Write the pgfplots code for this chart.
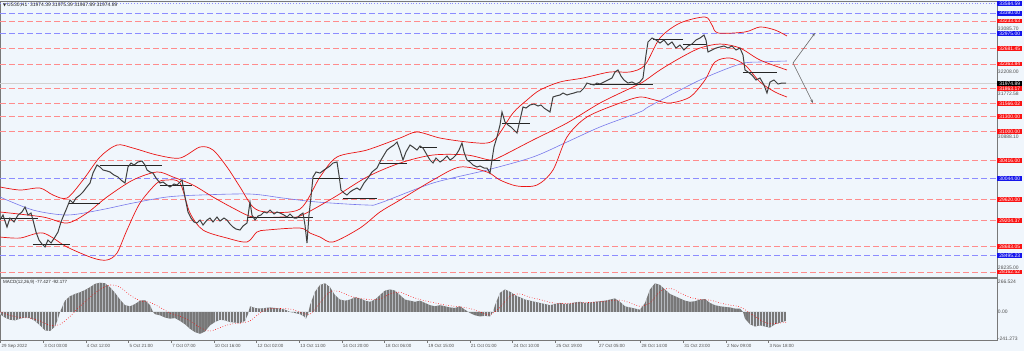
\documentclass[border=0pt]{standalone}
\usepackage{pgfplots}
\pgfplotsset{compat=1.18}
\usepackage{fontspec}
\setmainfont{Liberation Sans}
\newfontfamily\dejavu{DejaVu Sans}
\usetikzlibrary{arrows.meta,patterns}
\definecolor{bg}{RGB}{240,246,252}
\definecolor{lvred}{RGB}{255,140,140}
\definecolor{lvblue}{RGB}{140,140,255}
\definecolor{bandred}{RGB}{235,20,20}
\definecolor{mablue}{RGB}{120,120,235}
\definecolor{lblred}{RGB}{250,20,20}
\definecolor{lblblue}{RGB}{20,20,235}
\definecolor{axgray}{RGB}{120,120,120}
\definecolor{txtgray}{RGB}{80,80,80}
\definecolor{histgray}{RGB}{120,120,120}
\definecolor{stripe}{RGB}{215,220,228}
\tikzset{
  plab/.style={anchor=west, inner xsep=0.8bp, inner ysep=0.6bp, font=\fontsize{5}{5}\selectfont, text=white, text height=3.6bp, text depth=0bp, minimum width=25bp},
  glab/.style={anchor=west, inner xsep=0.8bp, inner ysep=0.6bp, font=\fontsize{5}{5}\selectfont, text=txtgray, text height=3.6bp, text depth=0bp},
}
\pgfplotstableread{
x y
0 0
0 -20
5 -50
10 -70
15 -75
20 -60
25 -50
30 -55
35 -80
40 -120
45 -165
50 -170
55 -130
58 -60
60 0
62 40
65 100
70 140
75 160
80 175
85 195
90 220
95 250
100 260
105 255
110 220
115 170
120 110
125 60
130 50
135 70
140 100
145 105
150 60
153 0
155 -20
160 -30
165 -50
170 -60
175 -55
180 -80
185 -110
190 -150
195 -180
200 -195
205 -175
210 -120
215 -90
220 -70
225 -75
230 -90
235 -95
240 -100
245 -80
248 -20
250 50
255 35
260 30
265 35
270 40
275 35
280 30
285 20
290 0
295 -10
300 -20
304 -40
306 -60
308 -20
310 60
315 180
320 240
325 255
330 220
335 150
340 110
345 100
350 110
355 130
360 120
365 100
370 90
375 110
380 150
385 190
390 200
395 190
400 150
405 110
410 100
415 90
420 100
425 80
430 60
435 50
440 60
445 50
450 40
455 35
460 50
465 20
470 -10
475 -30
480 -40
485 -35
490 -40
493 0
495 60
500 170
505 200
510 180
515 150
520 130
525 110
530 100
535 90
540 80
545 70
550 60
555 70
560 80
565 70
570 75
575 85
580 90
585 80
590 85
595 90
600 95
605 100
610 110
615 120
620 90
625 50
630 40
635 30
640 20
645 80
650 200
655 255
660 240
665 200
670 160
675 140
680 120
685 100
690 90
695 95
700 110
705 115
710 80
715 60
720 50
725 45
730 40
735 30
740 30
743 0
745 -60
750 -110
755 -130
760 -120
765 -130
770 -140
775 -110
780 -95
786 -80
786 0
}\macdhist
\begin{document}
\begin{tikzpicture}[x=1bp,y=1bp]
\fill[bg] (0,0) rectangle (1024,351);
% ---------------- main price panel ----------------
\begin{axis}[at={(0bp,74bp)}, anchor=south west, scale only axis,
  width=997bp, height=276bp, xmin=0, xmax=997, ymin=28061, ymax=33636,
  xtick=\empty, ytick=\empty, clip=false,
  axis line style={draw=axgray, line width=0.6bp}]
% horizontal levels
\addplot[lvblue, dotted, line width=0.8bp] coordinates {(0,33584.59) (997,33584.59)};
\pgfplotsinvokeforeach{33390.00,32975.00,30044.00,28495.23}{
  \addplot[lvblue, dash pattern=on 6bp off 3bp, line width=0.8bp] coordinates {(0,#1) (997,#1)};
}
\pgfplotsinvokeforeach{33233.63,32681.45,32363.84,31863.17,31566.02,31300.00,31000.00,30416.00,29620.00,29204.37,28683.05,28162.52}{
  \addplot[lvred, dash pattern=on 6bp off 3bp, line width=0.8bp] coordinates {(0,#1) (997,#1)};
}
\addplot[gray!35, line width=0.6bp] coordinates {(0,31974.89) (997,31974.89)};
% moving average (blue)
\addplot[mablue, line width=0.6bp, smooth] coordinates {
(0,29677) (33,29414) (67,29313) (100,29414) (133,29555) (167,29677) (200,29717) (250,29737)
(283,29656) (317,29576) (367,29515) (380,29555) (433,29959) (487,30222) (533,30485)
(567,30788) (600,31091) (640,31394) (650,31515) (700,32040) (740,32363) (760,32404) (787,32424)};
% Bollinger upper
\addplot[bandred, line width=0.7bp, smooth] coordinates {
(0,29879) (20,29818) (40,29858) (53,29717) (67,29656) (83,30020) (100,30485) (117,30727)
(133,30666) (157,30525) (180,30464) (200,30687) (213,30626) (227,30283) (240,29879)
(253,29475) (267,29374) (300,29434) (320,30081) (337,30485) (367,30626) (400,30868)
(417,30990) (440,30868) (467,30788) (487,30767) (497,30889) (513,31373) (527,31636)
(540,31838) (560,32000) (583,32080) (610,32202) (630,32202) (645,32343) (660,32888)
(680,33191) (705,33313) (712,33151) (718,32990) (745,33010) (760,33111) (775,33050) (787,32929)};
% Bollinger middle
\addplot[bandred, line width=0.7bp, smooth] coordinates {
(0,29374) (43,29273) (67,29151) (87,29353) (107,29677) (133,30020) (157,30182) (173,30081)
(193,29919) (213,29677) (233,29454) (253,29273) (283,29273) (300,29293) (333,29656)
(367,30081) (400,30363) (433,30525) (467,30525) (490,30424) (500,30485) (533,30828)
(567,31171) (600,31575) (633,31899) (643,32000) (660,32242) (680,32484) (700,32686)
(720,32767) (740,32686) (760,32444) (787,32242)};
% Bollinger lower
\addplot[bandred, line width=0.7bp, smooth] coordinates {
(0,28869) (20,28848) (43,28949) (67,28667) (93,28444) (107,28404) (117,28545) (127,29010)
(140,29555) (157,29959) (167,30020) (180,29959) (190,29353) (203,29010) (227,28848)
(247,28768) (257,28970) (267,29010) (300,29050) (310,28949) (320,28869) (333,28768)
(360,29050) (380,29374) (400,29616) (433,30020) (460,30283) (487,30182) (500,30020)
(517,29899) (537,29919) (553,30222) (567,30889) (587,31293) (620,31575) (640,31697)
(655,31636) (670,31575) (690,31697) (705,32040) (715,32404) (730,32484) (745,32343)
(760,32000) (775,31798) (787,31697)};
% support / resistance segments
\addplot[black!85, line width=0.7bp] coordinates {(0,29252) (38,29252)};
\addplot[black!85, line width=0.7bp] coordinates {(33,28727) (70,28727)};
\addplot[black!85, line width=0.7bp] coordinates {(68,29555) (100,29555)};
\addplot[black!85, line width=0.7bp] coordinates {(100,30323) (162,30323)};
\addplot[black!85, line width=0.7bp] coordinates {(160,29919) (192,29919)};
\addplot[black!85, line width=0.7bp] coordinates {(247,29273) (313,29273)};
\addplot[black!85, line width=0.7bp] coordinates {(313,30060) (343,30060)};
\addplot[black!85, line width=0.7bp] coordinates {(343,29656) (377,29656)};
\addplot[black!85, line width=0.7bp] coordinates {(380,30363) (407,30363)};
\addplot[black!85, line width=0.7bp] coordinates {(420,30687) (437,30687)};
\addplot[black!85, line width=0.7bp] coordinates {(467,30424) (500,30424)};
\addplot[black!85, line width=0.7bp] coordinates {(502,31171) (530,31171)};
\addplot[black!85, line width=0.7bp] coordinates {(590,31959) (653,31959)};
\addplot[black!85, line width=0.7bp] coordinates {(653,32868) (683,32868)};
\addplot[black!85, line width=0.7bp] coordinates {(683,32767) (707,32767)};
\addplot[black!85, line width=0.7bp] coordinates {(743,32202) (777,32202)};
% price (closes)
\addplot[black!75, line width=1.0bp] coordinates {
(0,29212) (3,29313) (7,29071) (10,29252) (14,29172) (18,29313) (22,29374) (25,29475)
(28,29313) (31,29353) (33,29212) (36,28970) (39,28808) (42,28727) (45,28667) (48,28808)
(51,28747) (55,28869) (58,28970) (61,29172) (63,29273) (66,29414) (70,29616) (73,29555)
(76,29656) (80,29717) (83,29778) (86,29858) (90,29959) (93,30161) (97,30323) (100,30283)
(103,30222) (107,30202) (110,30182) (114,30121) (118,30081) (121,30020) (125,29959)
(128,30283) (131,30363) (134,30323) (138,30384) (142,30404) (145,30323) (147,30222)
(150,30182) (153,30161) (156,30060) (160,29959) (163,29980) (167,29919) (170,29879)
(174,29939) (177,29919) (180,29980) (182,30020) (185,29677) (188,29374) (191,29252)
(194,29172) (197,29151) (200,29212) (203,29111) (207,29212) (210,29252) (213,29172)
(217,29273) (220,29192) (224,29252) (227,29212) (230,29131) (233,29071) (236,29030)
(240,29010) (243,29091) (247,29151) (250,29576) (252,29313) (255,29212) (258,29293)
(261,29313) (264,29374) (267,29353) (270,29414) (274,29333) (277,29374) (280,29353)
(284,29313) (287,29273) (290,29333) (294,29252) (297,29252) (300,29313) (303,29353)
(305,29111) (307,28747) (309,29313) (311,29677) (313,30081) (316,30182) (320,30161)
(324,30222) (327,30262) (330,30303) (333,30363) (337,30384) (339,30121) (341,29818)
(344,29757) (347,29717) (350,29778) (353,29818) (357,29858) (360,29818) (364,29959)
(368,30060) (372,30182) (377,30262) (381,30424) (384,30525) (387,30626) (391,30687)
(394,30727) (397,30788) (400,30626) (403,30424) (406,30586) (410,30727) (413,30687)
(417,30626) (420,30707) (423,30666) (427,30525) (430,30424) (433,30363) (436,30464)
(440,30384) (443,30424) (447,30505) (450,30424) (453,30464) (456,30525) (459,30626)
(462,30767) (464,30586) (467,30424) (470,30384) (473,30323) (477,30283) (480,30303)
(484,30262) (487,30262) (490,30161) (492,30424) (494,30687) (497,30889) (500,31131)
(502,31394) (505,31192) (508,31131) (511,31091) (514,31030) (517,30969) (520,31232)
(523,31495) (526,31474) (530,31535) (534,31555) (538,31515) (541,31535) (544,31474)
(547,31434) (550,31394) (553,31697) (556,31717) (560,31737) (563,31777) (567,31737)
(570,31757) (574,31777) (577,31798) (580,31798) (584,31878) (587,31979) (590,31959)
(594,31939) (597,31979) (600,31959) (604,32000) (608,32040) (612,32080) (615,32202)
(618,32242) (621,32121) (624,32040) (628,31979) (632,32000) (636,31959) (640,32000)
(643,32080) (646,32545) (648,32808) (652,32888) (656,32848) (660,32787) (664,32848)
(668,32747) (672,32808) (676,32686) (680,32747) (684,32646) (688,32727) (692,32767)
(696,32848) (700,32888) (704,32949) (706,32848) (708,32606) (712,32646) (716,32686)
(720,32707) (724,32727) (728,32686) (732,32727) (736,32646) (740,32686) (743,32545)
(745,32242) (748,32202) (752,32141) (756,32040) (760,32080) (764,31939) (767,31777)
(770,31998) (774,32040) (778,31959) (782,31979) (786,31975)};
% projection arrows
\addplot[gray!80!black, line width=0.6bp, -{Stealth[length=3.5bp,width=2.5bp]}] coordinates {(793,32383) (815,32989)};
\addplot[gray!80!black, line width=0.6bp, -{Stealth[length=3.5bp,width=2.5bp]}] coordinates {(793,32383) (813,31575)};
% right-hand grey axis values
\node[glab] at (axis cs:997,33085.70) {33085.70};
\node[glab] at (axis cs:997,32208.00) {32208.00};
\node[glab] at (axis cs:997,31772.58) {31772.58};
\node[glab] at (axis cs:997,30888.10) {30888.10};
\node[glab] at (axis cs:997,28250.00) {28235.00};
% coloured level labels
\pgfplotsinvokeforeach{33584.59,33390.00,32975.00,30044.00,28495.23}{
  \node[plab, fill=lblblue] at (axis cs:997,#1) {#1};
}
\pgfplotsinvokeforeach{33233.63,32681.45,32363.84,31863.17,31566.02,31300.00,31000.00,30416.00,29620.00,29204.37,28683.05,28162.52}{
  \node[plab, fill=lblred] at (axis cs:997,#1) {#1};
}
\node[plab, fill=black] at (axis cs:997,31974.89) {31974.89};
\end{axis}
% title
\node[anchor=north west, inner sep=0pt, font=\fontsize{5}{6}\selectfont, text=black!85] at (3bp,348.5bp)
  {{\dejavu\fontsize{4}{5}\selectfont ▼}\,US30,H1\ \ 31974.39 31975.39 31967.89 31974.89};
% ---------------- MACD panel ----------------
\begin{axis}[at={(0bp,11bp)}, anchor=south west, scale only axis,
  width=997bp, height=62bp, xmin=0, xmax=997, ymin=-250, ymax=302,
  ytick=\empty, clip=false,
  axis line style={draw=axgray, line width=0.6bp},
  xtick={0.7,43.3,86.0,128.7,171.4,214.0,256.7,299.4,342.0,384.7,427.4,470.0,512.7,555.4,598.1,640.7,683.4,726.1,768.7},
  xticklabels={29 Sep 2022,3 Oct 03:00,4 Oct 12:00,5 Oct 21:00,7 Oct 07:00,10 Oct 16:00,12 Oct 02:00,13 Oct 11:00,14 Oct 20:00,18 Oct 06:00,19 Oct 15:00,21 Oct 01:00,24 Oct 10:00,25 Oct 19:00,27 Oct 05:00,28 Oct 14:00,31 Oct 23:00,2 Nov 09:00,3 Nov 18:00},
  xtick pos=bottom, tick align=outside, major tick length=3bp,
  every tick/.style={axgray, line width=0.5bp},
  xticklabel style={anchor=north west, font=\fontsize{4.5}{5}\selectfont, text=txtgray, inner sep=0.5bp, xshift=0.3bp, yshift=-0.5bp}]
\addplot[draw=none, fill=histgray] table[x=x, y=y] {\macdhist} -- cycle;
\addplot[draw=none, pattern=vertical lines, pattern color=stripe] table[x=x, y=y] {\macdhist} -- cycle;
% signal line
\addplot[red, dotted, line width=0.6bp, smooth] coordinates {
(0,0) (10,-30) (20,-50) (30,-55) (40,-80) (50,-120) (60,-110) (70,-40) (80,50) (90,130)
(100,200) (110,240) (120,220) (130,150) (140,100) (150,85) (160,40) (170,-10) (180,-40)
(190,-80) (200,-140) (210,-170) (220,-140) (230,-110) (240,-100) (250,-80) (260,-10)
(270,30) (290,25) (300,0) (310,-20) (320,80) (330,180) (340,180) (350,140) (360,120)
(370,110) (380,115) (390,160) (400,175) (410,140) (420,110) (430,90) (440,70) (450,55)
(460,45) (470,30) (480,0) (490,-25) (500,40) (510,140) (520,160) (530,130) (540,110)
(550,85) (560,75) (580,80) (600,90) (620,105) (630,80) (640,50) (650,80) (660,180)
(670,210) (680,170) (690,130) (700,110) (710,105) (720,80) (730,60) (740,45) (750,-10)
(760,-70) (770,-105) (786,-92)};
\node[glab] at (axis cs:997,266.524) {266.524};
\node[glab] at (axis cs:997,0) {0.00};
\node[glab] at (axis cs:997,-241.273) {-241.273};
\end{axis}
\node[anchor=west, inner sep=0pt, font=\fontsize{4.5}{5}\selectfont, text=black!85] at (3bp,68.3bp) {MACD(12,26,9) -77.427 -92.177};
\pgfresetboundingbox
\path (0bp,0bp) rectangle (1024bp,351bp);
\end{tikzpicture}
\end{document}
